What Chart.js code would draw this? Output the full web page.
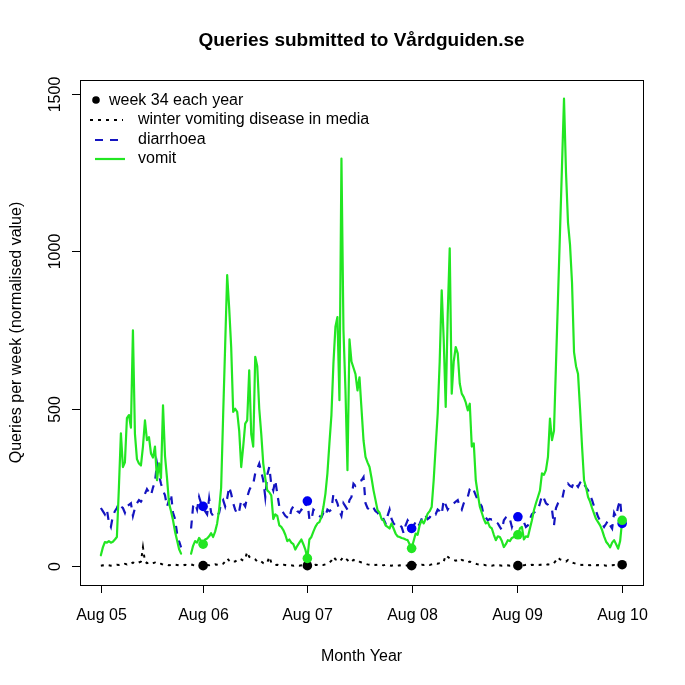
<!DOCTYPE html>
<html>
<head>
<meta charset="utf-8">
<script src="https://cdn.jsdelivr.net/npm/chart.js@4/dist/chart.umd.min.js"></script>
<style>
  body { margin: 0; background: #fff; }
  canvas { display: block; }
</style>
</head>
<body>
<canvas id="queriesChart" width="685" height="685"></canvas>
<script>
// weekly values, week 0 = week 34 2005, null = missing weeks
var vomit = [
    35, 60, 77, 75, 80, 75, 78, 85, 93, 250,
    422, 315, 330, 470, 480, 440, 749, 420, 340, 326,
    320, 380, 463, 400, 410, 358, 345, 380, 273, 327,
    280, 511, 350, 280, 200, 175, 146, 110, 83, 55,
    40, null, null, null, null, 40, 65, 80, 75, 90,
    80, 70, 85, 88, 95, 105, 93, 110, 136, 180,
    250, 480, 700, 924, 820, 696, 490, 500, 490, 430,
    315, 380, 453, 463, 622, 420, 380, 665, 635, 500,
    420, 326, 280, 241, 235, 225, 150, 165, 160, 130,
    125, 115, 100, 80, 85, 75, 70, 53, 65, 75,
    85, 70, 53, 25, 85, 93, 110, 125, 136, 140,
    157, 188, 230, 295, 390, 480, 644, 760, 791, 527,
    1294, 750, 560, 305, 720, 650, 630, 610, 558, 600,
    500, 400, 347, 330, 315, 280, 241, 210, 178, 170,
    150, 146, 130, 125, 120, 136, 120, 104, 95, 93,
    90, 88, 85, 83, 70, 57, 80, 104, 100, 130,
    146, 136, 150, 167, 175, 188, 273, 380, 485, 650,
    876, 720, 506, 800, 1009, 548, 650, 696, 676, 580,
    548, 537, 520, 495, 516, 380, 390, 273, 230, 190,
    170, 150, 136, 140, 125, 120, 100, 83, 95, 93,
    80, 61, 70, 83, 80, 90, 93, 98, 100, 120,
    125, 85, 95, 93, 120, 146, 178, 200, 220, 240,
    295, 290, 305, 347, 469, 400, 430, 640, 850, 1060,
    1270, 1484, 1250, 1090, 1020, 900, 680, 635, 610, 500,
    380, 273, 250, 220, 205, 185, 167, 150, 140, 130,
    115, 95, 78, 70, 60, 75, 83, 70, 56, 80,
    146
];

var diarrhoea = [
    185, 175, 165, 180, 140, 125, 160, 175, 185, 200,
    190, 185, 170, 190, 195, 200, 160, 185, 200, 210,
    205, 215, 230, 245, 235, 225, 250, 268, 326, 290,
    262, 241, 225, 190, 210, 230, 170, 150, 105, 80,
    60, null, null, null, null, 120, 190, 200, 180, 220,
    200, 190, 175, 165, 215, 170, 160, 165, 160, 170,
    200, 210, 190, 215, 252, 230, 200, 180, 165, 175,
    210, 200, 190, 220, 241, 255, 262, 295, 310, 326,
    300, 273, 220, 290, 315, 260, 241, 273, 230, 190,
    180, 170, 160, 155, 150, 180, 190, 190, 175, 170,
    180, 175, 190, 207, 150, 146, 180, 175, 165, 160,
    155, 170, 160, 180, 175, 180, 230, 215, 200, 175,
    160, 200, 190, 180, 210, 220, 262, 255, 262, 270,
    273, 283, 200, 185, 180, 190, 185, 175, 170, 160,
    146, 150, 136, 160, 180, 150, 136, 130, 125, 130,
    125, 105, 130, 146, 136, 120, 130, 140, 125, 135,
    150, 165, 160, 150, 155, 165, 170, 165, 180, 175,
    165, 210, 195, 180, 190, 195, 200, 205, 210, 190,
    180, 200, 210, 220, 245, 252, 241, 225, 210, 200,
    190, 160, 155, 146, 150, 148, 150, 140, 136, 125,
    115, 146, 155, 160, 150, 125, 146, 155, 157, 150,
    136, 140, 125, 130, 150, 165, 170, 175, 180, 200,
    225, 215, 200, 195, 185, 180, 130, 185, 200, 205,
    210, 241, 250, 262, 255, 252, 268, 260, 252, 265,
    273, 262, 250, 241, 225, 210, 190, 175, 157, 145,
    136, 125, 135, 146, 130, 120, 170, 157, 190, 210,
    136
];

var media = [
    2, 3, 2, 4, 3, 2, 3, 4, 5, 4,
    6, 5, 8, 6, 10, 8, 12, 10, 8, 12,
    15, 60, 15, 10, 12, 8, 10, 12, 8, 6,
    8, 5, 4, 5, 3, 4, 3, 5, 4, 3,
    4, 3, 5, 3, 4, 6, 4, 3, 2, 3,
    2, 2, 3, 4, 3, 5, 4, 6, 5, 4,
    5, 8, 15, 25, 18, 12, 15, 15, 20, 25,
    22, 18, 25, 45, 30, 25, 25, 22, 15, 12,
    15, 10, 8, 12, 30, 12, 6, 4, 5, 3,
    3, 5, 4, 3, 4, 3, 2, 4, 3, 2,
    3, 2, 3, 2, 3, 4, 3, 5, 4, 3,
    5, 4, 6, 8, 12, 18, 30, 22, 20, 15,
    22, 30, 25, 20, 12, 15, 20, 18, 20, 15,
    12, 10, 8, 6, 5, 4, 6, 4, 5, 3,
    4, 3, 5, 4, 3, 2, 4, 3, 2, 3,
    2, 3, 2, 3, 2, 2, 4, 5, 3, 4,
    5, 4, 6, 5, 4, 6, 8, 10, 8, 10,
    10, 15, 35, 30, 25, 22, 20, 18, 20, 15,
    20, 18, 15, 12, 15, 12, 10, 8, 6, 5,
    4, 5, 3, 4, 3, 2, 3, 4, 2, 3,
    2, 3, 2, 3, 2, 3, 2, 2, 2, 3,
    4, 3, 5, 4, 3, 5, 4, 6, 5, 4,
    6, 5, 4, 6, 5, 8, 10, 18, 28, 22,
    20, 18, 15, 20, 15, 12, 10, 8, 6, 5,
    4, 5, 3, 4, 3, 5, 4, 3, 4, 3,
    2, 3, 2, 3, 2, 3, 4, 3, 2, 3,
    5
];

// week 34 of each year (index into the weekly arrays)
var week34 = [51, 103, 155, 208, 260];

// axis ticks
var xTickWeeks = [0, 51, 103, 155, 207.5, 260];
var xTickLabels = ['Aug 05', 'Aug 06', 'Aug 07', 'Aug 08', 'Aug 09', 'Aug 10'];
var yTicks = [0, 500, 1000, 1500];

var GREEN = '#22e622';
var BLUE_LINE = '#1414c0';
var BLUE_DOT = '#0000f0';
var FONT = '"Liberation Sans", Arial, Helvetica, sans-serif';

function toPoints(arr) {
    return arr.map(function (v, i) { return { x: i, y: v }; });
}
function dotsOf(arr) {
    return week34.map(function (w) { return { x: w, y: arr[w] }; });
}

// draws the R-style box, axes, titles and legend
var rFrame = {
    id: 'rFrame',
    afterDraw: function (chart) {
        var ctx = chart.ctx;
        var a = chart.chartArea;
        var xs = chart.scales.x, ys = chart.scales.y;
        ctx.save();
        ctx.strokeStyle = '#000';
        ctx.fillStyle = '#000';
        ctx.lineWidth = 1;
        ctx.setLineDash([]);
        ctx.strokeRect(Math.round(a.left) + 0.5, Math.round(a.top) + 0.5,
            Math.round(a.right - a.left), Math.round(a.bottom - a.top));

        // x axis
        ctx.font = '16px ' + FONT;
        ctx.textAlign = 'center';
        ctx.textBaseline = 'middle';
        xTickWeeks.forEach(function (w, i) {
            var px = Math.round(xs.getPixelForValue(w)) + 0.5;
            ctx.beginPath();
            ctx.moveTo(px, a.bottom);
            ctx.lineTo(px, a.bottom + 8);
            ctx.stroke();
            ctx.fillText(xTickLabels[i], px, a.bottom + 31);
        });
        ctx.fillText('Month Year', (a.left + a.right) / 2, 657);

        // y axis
        yTicks.forEach(function (v) {
            var py = Math.round(ys.getPixelForValue(v)) + 0.5;
            ctx.beginPath();
            ctx.moveTo(a.left - 8, py);
            ctx.lineTo(a.left, py);
            ctx.stroke();
            ctx.save();
            ctx.translate(56, py);
            ctx.rotate(-Math.PI / 2);
            ctx.fillText(String(v), 0, 0);
            ctx.restore();
        });
        ctx.save();
        ctx.translate(17, (a.top + a.bottom) / 2);
        ctx.rotate(-Math.PI / 2);
        ctx.fillText('Queries per week (normalised value)', 0, 0);
        ctx.restore();

        // title
        ctx.font = 'bold 19px ' + FONT;
        ctx.fillText('Queries submitted to V\u00e5rdguiden.se', (a.left + a.right) / 2, 41);

        // legend
        ctx.font = '16px ' + FONT;
        ctx.textAlign = 'left';
        ctx.beginPath();
        ctx.arc(96, 100, 3.8, 0, Math.PI * 2);
        ctx.fill();
        ctx.fillText('week 34 each year', 109, 101);

        ctx.lineWidth = 2;
        ctx.setLineDash([3, 5]);
        ctx.beginPath();
        ctx.moveTo(90, 120);
        ctx.lineTo(123, 120);
        ctx.stroke();
        ctx.fillText('winter vomiting disease in media', 138, 120);

        ctx.strokeStyle = BLUE_LINE;
        ctx.lineWidth = 2.2;
        ctx.setLineDash([8, 7]);
        ctx.beginPath();
        ctx.moveTo(95, 140);
        ctx.lineTo(125, 140);
        ctx.stroke();
        ctx.fillText('diarrhoea', 138, 140);

        ctx.strokeStyle = GREEN;
        ctx.setLineDash([]);
        ctx.beginPath();
        ctx.moveTo(95, 159);
        ctx.lineTo(125, 159);
        ctx.stroke();
        ctx.fillText('vomit', 138, 159);
        ctx.restore();
    }
};

var ctx = document.getElementById('queriesChart').getContext('2d');

var chart = new Chart(ctx, {
    type: 'line',
    data: {
        datasets: [
            {
                label: 'vomit week 34',
                data: dotsOf(vomit),
                showLine: false,
                pointRadius: 4.8,
                pointBackgroundColor: GREEN,
                pointBorderColor: GREEN,
                pointBorderWidth: 0,
                clip: false
            },
            {
                label: 'diarrhoea week 34',
                data: dotsOf(diarrhoea),
                showLine: false,
                pointRadius: 4.8,
                pointBackgroundColor: BLUE_DOT,
                pointBorderColor: BLUE_DOT,
                pointBorderWidth: 0,
                clip: false
            },
            {
                label: 'week 34 each year',
                data: dotsOf(media),
                showLine: false,
                pointRadius: 4.8,
                pointBackgroundColor: '#000',
                pointBorderColor: '#000',
                pointBorderWidth: 0,
                clip: false
            },
            {
                label: 'vomit',
                data: toPoints(vomit),
                borderColor: GREEN,
                borderWidth: 2.2,
                pointRadius: 0,
                tension: 0,
                spanGaps: false,
                borderJoinStyle: 'round',
                borderCapStyle: 'round'
            },
            {
                label: 'diarrhoea',
                data: toPoints(diarrhoea),
                borderColor: BLUE_LINE,
                borderWidth: 2.2,
                borderDash: [8, 7],
                pointRadius: 0,
                tension: 0,
                spanGaps: false
            },
            {
                label: 'winter vomiting disease in media',
                data: toPoints(media),
                borderColor: '#000',
                borderWidth: 2,
                borderDash: [3, 5],
                pointRadius: 0,
                tension: 0
            }
        ]
    },
    options: {
        responsive: false,
        animation: false,
        devicePixelRatio: 1,
        layout: { padding: { left: 80, top: 80, right: 42, bottom: 100 } },
        scales: {
            x: { type: 'linear', min: -10.4, max: 270.4, display: false },
            y: { type: 'linear', min: -59.4, max: 1543.4, display: false }
        },
        plugins: {
            legend: { display: false },
            title: { display: false },
            tooltip: { enabled: false }
        }
    },
    plugins: [rFrame]
});
</script>
</body>
</html>
